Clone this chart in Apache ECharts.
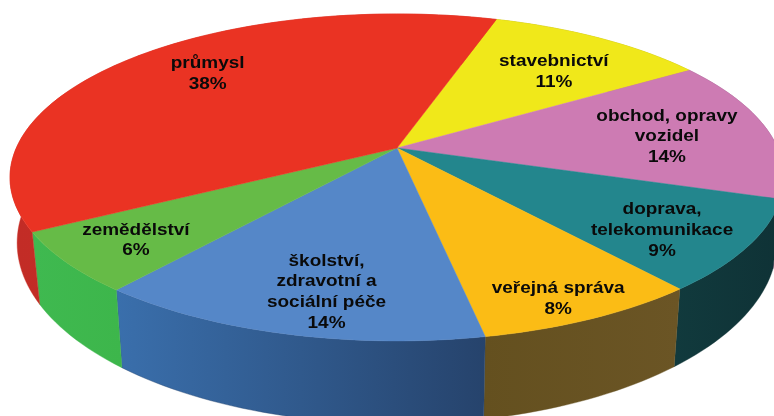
<!DOCTYPE html>
<html><head><meta charset="utf-8">
<style>html,body{margin:0;padding:0;background:#fff}#c{width:774px;height:416px}</style>
<script src="https://cdn.jsdelivr.net/npm/echarts@6/dist/echarts.min.js"></script>
</head><body><div id="c"></div>
<script>
// --- data ---
const categories = ['stavebnictví','obchod, opravy\nvozidel','doprava,\ntelekomunikace','veřejná správa','školství,\nzdravotní a\nsociální péče','zemědělství','průmysl'];
const values = [11,14,9,8,14,6,38];
// --- styles ---
const topColors = ['#F0E81A','#CD7BB3','#23868D','#FBBC15','#5587C8','#66BB47','#EA3323'];
const sideColors = [['#A8A212','#A8A212'],['#8F5680','#8F5680'],['#113A3D','#0F3236'],['#64501F','#6B5525'],['#3A6FAC','#26436C'],['#3FB950','#3DB64B'],['#C22C26','#CC2F27']];
// label placement: radial fraction of pie radius, degrees off the slice's middle
const labelRadius = [.693,.722,.795,.89,.798,.815,.745];
const labelTurn = [3,1.6,2.8,1.45,-2.7,-.6,3.8];
// --- projection of the tilted disc: upper face and lower rim ---
const startDeg = 17.8;
const upper = {x:397,y:148,a:380.7,b:158.2,k:.18,f:1};
const lower = {x:397,y:204,a:371,b:172.6,k:.215,f:.965};
const total = values.reduce((s,v)=>s+v,0);
function project(deg,r,p){
  const d=((deg-180+540)%360+360)%360-180;      // degrees off the front of the disc
  const t=(180+d*p.f)*Math.PI/180,u=r*Math.sin(t),v=-r*Math.cos(t),w=1-p.k*v;
  return [p.x+p.a*u/w,p.y+p.b*v/w];
}
function span(i){
  let s=startDeg;
  for(let j=0;j<i;j++)s+=values[j]/total*360;
  return [s,s+values[i]/total*360];
}
function arc(a,b,p){
  const n=Math.max(2,Math.ceil((b-a)/1.5)),o=[];
  for(let i=0;i<=n;i++)o.push(project(a+(b-a)*i/n,1,p));
  return o;
}
const sideItem=(params)=>{
  const i=params.dataIndex,[a,b]=span(i);
  const pts=arc(a,b,upper).concat(arc(a,b,lower).reverse());
  const c=sideColors[i];
  return {type:'polygon',shape:{points:pts},style:{
    fill:new echarts.graphic.LinearGradient(0,0,1,0,[{offset:0,color:c[0]},{offset:1,color:c[1]}]),
    stroke:c[1],lineWidth:.4}};
};
const topItem=(params)=>{
  const i=params.dataIndex,[a,b]=span(i);
  const pts=[[upper.x,upper.y]].concat(arc(a,b,upper));
  return {type:'polygon',shape:{points:pts},style:{fill:topColors[i],stroke:topColors[i],lineWidth:.5}};
};
const labelItem=(params)=>{
  const i=params.dataIndex,[a,b]=span(i);
  const c=project((a+b)/2+labelTurn[i],labelRadius[i],upper);
  const lines=categories[i].split('\n').concat([values[i]+'%']);
  const lh=20.6,y0=c[1]-(lines.length-1)*lh/2;
  return {type:'group',children:lines.map((t,n)=>({
    type:'text',x:c[0],y:y0+n*lh,scaleX:1.115,
    style:{text:t,fill:'#0a0a0a',font:'bold 17px "Liberation Sans",Arial,sans-serif',
      textAlign:'center',textVerticalAlign:'middle',
      shadowBlur:1.5,shadowColor:'rgba(0,0,0,0.35)'}
  }))};
};
const data=values.map((v,i)=>({name:categories[i],value:v}));
const chart=echarts.init(document.getElementById('c'),null,{renderer:'canvas'});
chart.setOption({
  animation:false,
  series:[
    {type:'custom',coordinateSystem:'none',z:1,data:data,renderItem:sideItem,silent:true},
    {type:'custom',coordinateSystem:'none',z:2,data:data,renderItem:topItem,silent:true},
    {type:'custom',coordinateSystem:'none',z:3,data:data,renderItem:labelItem,silent:true}
  ]
});
</script></body></html>
